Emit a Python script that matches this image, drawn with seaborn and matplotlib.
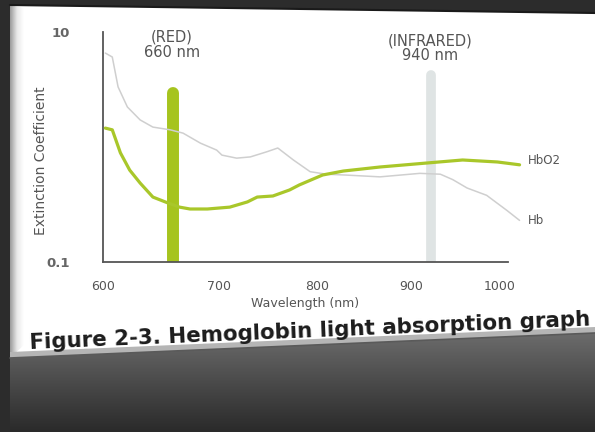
import numpy as np
import pandas as pd
import matplotlib
matplotlib.use("Agg")
import matplotlib.pyplot as plt
import seaborn as sns
from matplotlib.patches import Polygon
from matplotlib.colors import LinearSegmentedColormap

# ---------------- data ----------------
hbo2_wavelength = [602, 608, 615, 623, 632, 643, 656, 666, 675, 690, 711, 729, 739,
                   755, 772, 782, 806, 828, 867, 918, 958, 997, 1022]
hbo2_value = [1.46, 1.41, 0.89, 0.63, 0.486, 0.367, 0.326, 0.30, 0.289, 0.289, 0.30,
              0.333, 0.367, 0.375, 0.423, 0.468, 0.571, 0.618, 0.67, 0.726, 0.771,
              0.741, 0.70]
hb_wavelength = [602, 608, 613, 621, 632, 643, 658, 669, 684, 698, 703, 718, 732, 749,
                 760, 776, 793, 810, 831, 867, 910, 933, 947, 963, 985, 1008, 1022]
hb_value = [6.56, 6.06, 3.33, 2.23, 1.72, 1.49, 1.41, 1.32, 1.08, 0.94, 0.85, 0.80,
            0.82, 0.91, 0.98, 0.77, 0.61, 0.58, 0.57, 0.55, 0.59, 0.58, 0.52, 0.44,
            0.38, 0.28, 0.23]
band_names = ["RED", "INFRARED"]
band_position = [660, 922]
band_top = [2.95, 4.2]
band_labels = ["(RED)\n660 nm", "(INFRARED)\n940 nm"]
x_ticks = [600, 700, 800, 900, 1000]
y_ticks = [0.1, 10]
y_tick_labels = ["0.1", "10"]
series_labels = ["HbO2", "Hb"]
title = "Figure 2-3. Hemoglobin light absorption graph"

# ---------------- style ----------------
sns.set_theme(style="white")
plt.rcParams["font.family"] = ["DejaVu Sans"]

W, H = 595, 432
fig = plt.figure(figsize=(W / 100, H / 100), dpi=100, facecolor="#2c2c2c")

# background axes in pixel coordinates (y downwards)
bg = fig.add_axes([0, 0, 1, 1], zorder=0)
bg.set_xlim(0, W)
bg.set_ylim(H, 0)
bg.axis("off")

# reflection area with vertical gradient
refl = Polygon([(10, 358), (595, 333), (595, 432), (10, 432)], closed=True,
               facecolor="none", edgecolor="none")
bg.add_patch(refl)
grad = np.linspace(0, 1, 256).reshape(-1, 1)
cmap_refl = LinearSegmentedColormap.from_list("refl", ["#6c6c6c", "#4a4a4a", "#2a2a2a"])
im = bg.imshow(grad, extent=(10, 595, 432, 333), cmap=cmap_refl, aspect="auto",
               interpolation="bicubic", zorder=1)
im.set_clip_path(refl)

# white slide panel
panel = Polygon([(10, 5), (595, 13), (595, 333), (10, 358)], closed=True,
                facecolor="white", edgecolor="none", zorder=2)
bg.add_patch(panel)
# left bevel
bevel = Polygon([(10, 5), (24, 8), (24, 345), (10, 358)], closed=True,
                facecolor="none", edgecolor="none", zorder=3)
bg.add_patch(bevel)
cmap_bev = LinearSegmentedColormap.from_list("bev", ["#9a9a9a", "#e8e8e8", "#ffffff"])
im2 = bg.imshow(np.linspace(0, 1, 64).reshape(1, -1), extent=(10, 24, 358, 5),
                cmap=cmap_bev, aspect="auto", interpolation="bicubic", zorder=3)
im2.set_clip_path(bevel)
# bottom bevel
bbev = Polygon([(10, 352), (595, 327), (595, 333), (10, 358)], closed=True,
               facecolor="#b5b5b5", edgecolor="none", zorder=3)
bg.add_patch(bbev)
bg.plot([10, 595], [358, 333], color="#5a5a5a", lw=1.2, zorder=4)
bg.plot([10, 595], [5, 13], color="#1a1a1a", lw=1.5, zorder=4)

# ---------------- main chart ----------------
ax_l, ax_r, ax_t, ax_b = 103, 508, 32, 262
ax = fig.add_axes([ax_l / W, 1 - ax_b / H, (ax_r - ax_l) / W, (ax_b - ax_t) / H],
                  zorder=5)
ax.patch.set_alpha(0)

# perspective-like x scale of the photographed slide
nm_pts = np.array([500, 600, 700, 800, 900, 1000, 1100], dtype=float)
px_pts = np.array([-116, 0, 116, 214, 308, 397, 486], dtype=float)
ax.set_xscale("function", functions=(lambda v: np.interp(v, nm_pts, px_pts),
                                     lambda p: np.interp(p, px_pts, nm_pts)))
ax.set_yscale("log")

green = "#a9c72a"
df_hbo2 = pd.DataFrame({"wavelength": hbo2_wavelength, "value": hbo2_value})
df_hb = pd.DataFrame({"wavelength": hb_wavelength, "value": hb_value})

sns.lineplot(data=df_hb, x="wavelength", y="value", ax=ax, color="#cfcfcf",
             lw=1.1, clip_on=False, zorder=3)
sns.lineplot(data=df_hbo2, x="wavelength", y="value", ax=ax, color=green,
             lw=2.3, clip_on=False, zorder=4)

lc = ax.vlines(band_position, 0.1, band_top, colors=["#a6c41e", "#dfe4e4"],
               linewidths=[8.6, 7.0], zorder=2)
lc.set_capstyle("round")

ax.set_xlim(600, 1009)
ax.set_ylim(0.1, 10)
ax.set_xticks(x_ticks)
ax.set_xticklabels([str(t) for t in x_ticks])
ax.set_yticks(y_ticks)
ax.set_yticklabels(y_tick_labels)
ax.yaxis.set_minor_locator(matplotlib.ticker.NullLocator())
ax.tick_params(axis="x", direction="in", length=5, width=1.2, color="#555555",
               pad=13, labelsize=9, labelcolor="#555555")
ax.tick_params(axis="y", length=0, pad=24, labelsize=9.5, labelcolor="#666666")
for lab in ax.get_yticklabels():
    lab.set_fontweight("bold")
for s in ["top", "right"]:
    ax.spines[s].set_visible(False)
for s in ["left", "bottom"]:
    ax.spines[s].set_color("#555555")
    ax.spines[s].set_linewidth(1.3)

ax.set_xlabel("Wavelength (nm)", fontsize=9, color="#555555", labelpad=3)
ax.set_ylabel("Extinction Coefficient", fontsize=10, color="#555555")
ax.yaxis.set_label_coords(-0.136, 0.44)

# band labels
bg.text(172, 45, band_labels[0], ha="center", va="center", fontsize=10.5,
        color="#555555", linespacing=1.0, zorder=6)
bg.text(430, 48, band_labels[1], ha="center", va="center", fontsize=10.5,
        color="#555555", linespacing=1.0, zorder=6)

# series labels
bg.text(528, 160, series_labels[0], ha="left", va="center", fontsize=8.5,
        color="#555555", zorder=6)
bg.text(528, 221, series_labels[1], ha="left", va="center", fontsize=8.5,
        color="#555555", zorder=6)

# caption
bg.text(310, 331, title, ha="center", va="center", rotation=2.4,
        rotation_mode="anchor", fontsize=15.4, fontweight="bold",
        color="#1c1c1c", zorder=6)

fig.savefig("out.png", dpi=100, facecolor=fig.get_facecolor())
